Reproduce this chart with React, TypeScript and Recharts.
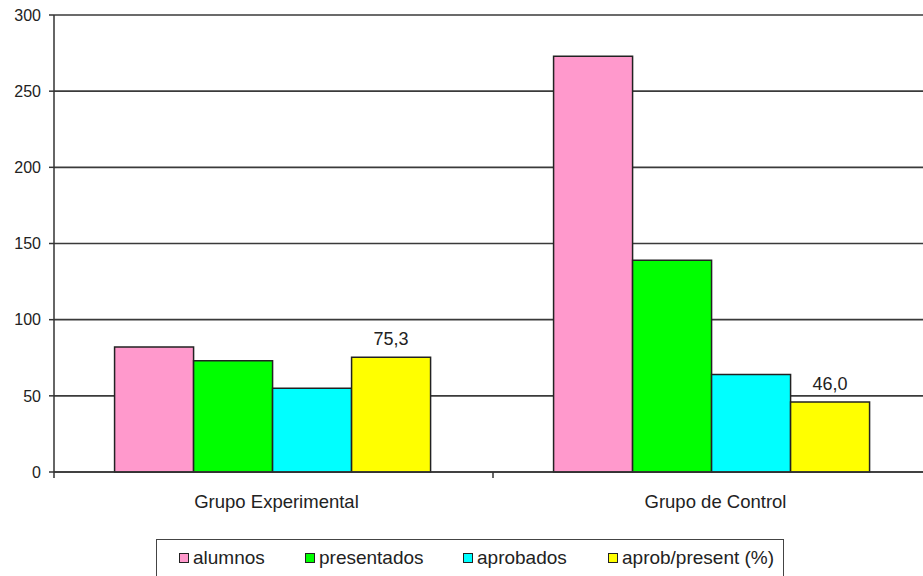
import React from 'react';
import { BarChart, Bar, XAxis, YAxis, CartesianGrid, Legend, LabelList } from 'recharts';

const categories = ['Grupo Experimental', 'Grupo de Control'];
const alumnos = [82, 273];
const presentados = [73, 139];
const aprobados = [55, 64];
const aprobPresent = [75.3, 46.0];
const yTicks = [0, 50, 100, 150, 200, 250, 300];

const seriesDefs = [
  { key: 'alumnos', name: 'alumnos', color: '#FF99CC', values: alumnos },
  { key: 'presentados', name: 'presentados', color: '#00FF00', values: presentados },
  { key: 'aprobados', name: 'aprobados', color: '#00FFFF', values: aprobados },
  { key: 'aprobPresent', name: 'aprob/present (%)', color: '#FFFF00', values: aprobPresent },
];

const data = categories.map((c, i) => {
  const row: any = { name: c };
  seriesDefs.forEach((s) => (row[s.key] = s.values[i]));
  return row;
});

const FONT = 'Liberation Sans, Arial, sans-serif';

const XTick = (props: any) => {
  const { x, payload } = props;
  const off = payload.offset || 0;
  const axisY = 472;
  return (
    <g>
      <line x1={x - off} x2={x - off} y1={axisY} y2={axisY + 6} stroke="#333" strokeWidth={1.5} />
      <text x={x + 3} y={axisY + 36} textAnchor="middle" fontSize={18.5} fill="#222" fontFamily={FONT}>
        {payload.value}
      </text>
    </g>
  );
};

const legendOffsets = [22, 148, 306, 451];

const LegendContent = () => (
  <div
    style={{
      position: 'relative',
      width: 628,
      height: 40,
      border: '1.5px solid #444',
      background: '#fff',
      boxSizing: 'border-box',
      fontFamily: FONT,
      fontSize: 19,
      color: '#222',
    }}
  >
    {seriesDefs.map((s, i) => (
      <div
        key={s.key}
        style={{ position: 'absolute', left: legendOffsets[i], top: 7, display: 'flex', alignItems: 'center', whiteSpace: 'nowrap', lineHeight: '22px' }}
      >
        <span
          style={{ display: 'inline-block', width: 8, height: 8, background: s.color, border: '1.5px solid #222', marginRight: 4 }}
        />
        <span>{s.name}</span>
      </div>
    ))}
  </div>
);

export default function App() {
  return (
    <div style={{ position: 'absolute', left: 0, top: 0, width: 923, height: 576, overflow: 'hidden', background: '#fff' }}>
      <BarChart
        width={940}
        height={576}
        data={data}
        margin={{ top: 15, right: 8, left: 0, bottom: 0 }}
        barCategoryGap="13.8%"
        barGap={0}
      >
        <CartesianGrid vertical={false} stroke="#3a3a3a" strokeWidth={1.6} />
        <XAxis
          dataKey="name"
          height={64}
          axisLine={{ stroke: '#333', strokeWidth: 1.5 }}
          tickLine={false}
          tick={<XTick />}
          interval={0}
        />
        <YAxis
          width={54}
          domain={[0, 300]}
          ticks={yTicks}
          axisLine={{ stroke: '#333', strokeWidth: 1.5 }}
          tickLine={{ stroke: '#333', strokeWidth: 1.5 }}
          tickSize={5}
          tickMargin={8}
          tick={{ fontSize: 16, fill: '#222', fontFamily: FONT }}
        />
        <Legend
          content={<LegendContent />}
          wrapperStyle={{ position: 'absolute', left: 156, top: 539, bottom: 'auto', width: 628, height: 40 }}
        />
        {seriesDefs.map((s) => (
          <Bar key={s.key} dataKey={s.key} name={s.name} fill={s.color} stroke="#222" strokeWidth={1.5} isAnimationActive={false}>
            {s.key === 'aprobPresent' ? (
              <LabelList
                dataKey={s.key}
                position="top"
                offset={12}
                formatter={(v: any) => Number(v).toFixed(1).replace('.', ',')}
                style={{ fontSize: 18, fill: '#222', fontFamily: FONT }}
              />
            ) : null}
          </Bar>
        ))}
      </BarChart>
    </div>
  );
}
